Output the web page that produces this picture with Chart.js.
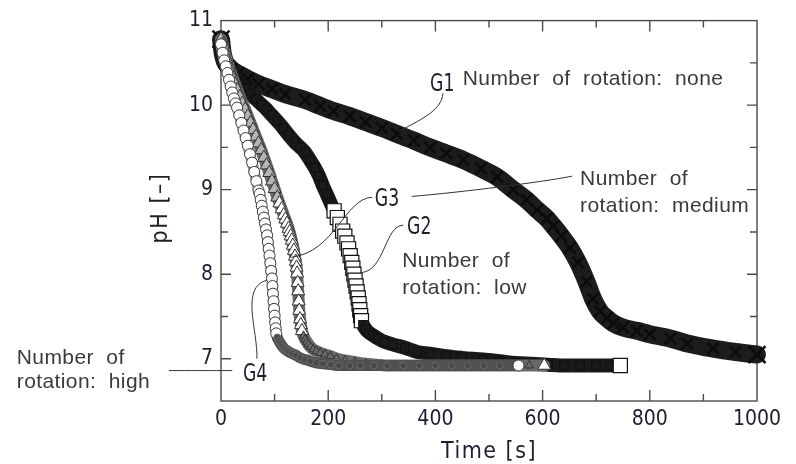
<!DOCTYPE html>
<html>
<head>
<meta charset="utf-8">
<script src="https://cdn.jsdelivr.net/npm/chart.js@4.4.1/dist/chart.umd.min.js"></script>
<style>
  html, body { margin: 0; padding: 0; background: #fff; }
  #wrap { width: 796px; height: 464px; position: relative; }
</style>
</head>
<body>
<div id="wrap"><canvas id="myChart"></canvas></div>
<script>
// G1 - number of rotation: none (crosses)
const g1Time = [0, 3, 7, 12, 20, 32, 50, 70, 95, 120, 157, 185, 210, 240, 270, 300, 328, 360, 390, 420,
  452, 485, 515, 545, 570, 590, 608, 620, 635, 651, 666, 682, 694, 707, 720, 732, 750, 776, 800, 838,
  870, 918, 960, 1000];
const g1PH = [10.78, 10.62, 10.52, 10.47, 10.42, 10.37, 10.31, 10.25, 10.19, 10.13, 10.06, 9.99, 9.93, 9.87, 9.80, 9.73, 9.66, 9.58, 9.50, 9.43,
  9.35, 9.25, 9.15, 9.00, 8.88, 8.76, 8.66, 8.57, 8.45, 8.31, 8.14, 7.91, 7.71, 7.56, 7.48, 7.42, 7.37, 7.33, 7.29, 7.24,
  7.18, 7.12, 7.08, 7.05];

// G2 - low (squares)
const g2Time = [0, 4, 8, 14, 20, 28, 36, 45, 55, 65, 75, 85, 95, 105, 116, 127, 138, 148, 157, 166,
  175, 183, 190, 197, 204, 211, 217, 222, 227, 231, 235, 238, 241, 244, 246, 248, 250, 252, 254, 256,
  257.5, 259, 260.5, 262, 265, 270, 276, 283, 293, 305, 320, 343, 366, 390, 420, 450, 489, 520, 550, 580,
  610, 640, 670, 700, 725, 745];
const g2PH = [10.70, 10.58, 10.50, 10.42, 10.36, 10.30, 10.25, 10.20, 10.13, 10.07, 10.01, 9.95, 9.88, 9.81, 9.73, 9.64, 9.56, 9.50, 9.44, 9.35,
  9.26, 9.16, 9.05, 8.95, 8.85, 8.75, 8.67, 8.59, 8.51, 8.45, 8.37, 8.30, 8.22, 8.14, 8.07, 8.00, 7.93, 7.86, 7.79, 7.72,
  7.65, 7.58, 7.51, 7.45, 7.40, 7.35, 7.31, 7.28, 7.24, 7.20, 7.17, 7.13, 7.08, 7.06, 7.03, 7.01, 6.99, 6.97, 6.95, 6.94,
  6.93, 6.92, 6.92, 6.92, 6.92, 6.92];

// G3 - medium (triangles)
const g3Time = [0, 3, 6, 10, 14, 18, 22, 26, 30, 35, 40, 45, 50, 55, 60, 65, 70, 75, 80, 85,
  90, 95, 100, 105, 109, 113, 117, 120, 123, 126, 128, 130, 132, 134, 136, 138, 139.5, 141, 142, 143,
  144, 145, 146, 147.5, 149, 151, 154, 157, 160, 163, 167, 172, 178, 185, 194, 204, 216, 231, 250, 270,
  290, 315, 340, 370, 400, 430, 460, 490, 520, 550, 575, 603];
const g3PH = [10.78, 10.72, 10.64, 10.55, 10.47, 10.39, 10.32, 10.25, 10.18, 10.10, 10.02, 9.95, 9.87, 9.79, 9.71, 9.63, 9.55, 9.47, 9.38, 9.29,
  9.20, 9.10, 9.01, 8.91, 8.84, 8.77, 8.70, 8.65, 8.60, 8.54, 8.50, 8.45, 8.40, 8.34, 8.28, 8.21, 8.15, 8.08, 8.01, 7.90,
  7.80, 7.68, 7.57, 7.47, 7.40, 7.33, 7.27, 7.23, 7.20, 7.17, 7.14, 7.11, 7.09, 7.07, 7.05, 7.03, 7.00, 6.98, 6.96, 6.94,
  6.93, 6.92, 6.92, 6.92, 6.92, 6.92, 6.92, 6.92, 6.92, 6.92, 6.92, 6.92];

// G4 - high (circles)
const g4Time = [0, 3, 6, 9, 12, 15, 18, 21, 24, 27, 30, 34, 38, 42, 46, 50, 54, 58, 62, 66,
  70, 72, 74, 76, 78, 80, 82, 84, 86, 87.5, 89, 90.5, 92, 93.5, 95, 96, 97, 98, 99, 100,
  101, 102, 103, 105, 108, 111, 114, 118, 122, 127, 133, 140, 148, 157, 167, 178, 190, 205, 220, 240,
  260, 285, 310, 340, 370, 400, 430, 460, 490, 520, 555];
const g4PH = [10.72, 10.62, 10.53, 10.46, 10.38, 10.30, 10.22, 10.15, 10.08, 10.02, 9.97, 9.88, 9.79, 9.70, 9.61, 9.52, 9.42, 9.32, 9.21, 9.10,
  8.99, 8.95, 8.88, 8.81, 8.74, 8.67, 8.60, 8.53, 8.46, 8.38, 8.30, 8.22, 8.13, 8.04, 7.95, 7.86, 7.77, 7.68, 7.59, 7.51,
  7.43, 7.36, 7.30, 7.25, 7.21, 7.18, 7.15, 7.12, 7.10, 7.08, 7.06, 7.04, 7.01, 6.99, 6.97, 6.95, 6.94, 6.93, 6.92, 6.92,
  6.92, 6.92, 6.92, 6.92, 6.92, 6.92, 6.92, 6.92, 6.92, 6.92, 6.92];

// tick labels shown on the axes
const xTickLabels = [0, 200, 400, 600, 800, 1000];
const yTickLabels = [7, 8, 9, 10, 11];

const narrow = '"Liberation Sans Narrow", "DejaVu Sans Condensed", "Liberation Sans", sans-serif';
const plain = '"Liberation Sans", Arial, sans-serif';

const pts = (ts, vs) => ts.map((t, i) => ({ x: t, y: vs[i] }));
const isLast = c => c.dataIndex === c.dataset.data.length - 1;

// annotation texts, anchored in data units (time, pH)
const notes = [
  { text: 'Number  of  rotation:  none', t: 451, v: 10.24 },
  { text: 'Number  of', t: 670, v: 9.05 },
  { text: 'rotation:  medium', t: 670, v: 8.74 },
  { text: 'Number  of', t: 338, v: 8.08 },
  { text: 'rotation:  low', t: 338, v: 7.76 },
  { text: 'Number  of', t: -381, v: 6.94 },
  { text: 'rotation:  high', t: -381, v: 6.65 }
];
const tags = [
  { text: 'G1', t: 390, v: 10.17 },
  { text: 'G3', t: 287, v: 8.81 },
  { text: 'G2', t: 347, v: 8.47 },
  { text: 'G4', t: 41, v: 6.74 }
];
// leader lines: start, two control points, end (bezier) in data units
const leaders = [
  [[414, 10.14], [412, 9.95], [380, 9.85], [332, 9.69]],
  [[655, 9.16], [600, 9.09], [450, 8.97], [356, 8.92]],
  [[282, 8.91], [231, 8.90], [213, 8.26], [131, 8.20]],
  [[340, 8.58], [306, 8.58], [306, 8.05], [263, 8.02]],
  [[67, 7.0], [69, 7.33], [35, 7.85], [86, 7.93]],
  [[-97, 6.86], [-60, 6.86], [0, 6.86], [21, 6.86]]
];

const frame = {
  id: 'frame',
  beforeDatasetsDraw(chart) {
    const { ctx, chartArea: a, scales: { x, y } } = chart;
    ctx.save();
    ctx.strokeStyle = '#4a4a4a';
    ctx.lineWidth = 1.4;
    ctx.strokeRect(a.left, a.top, a.right - a.left, a.bottom - a.top);
    ctx.beginPath();
    x.ticks.forEach(tk => {
      if (tk.value <= x.min || tk.value >= x.max) return;
      const px = x.getPixelForValue(tk.value);
      const len = tk.value % 200 === 0 ? 11 : 7;
      ctx.moveTo(px, a.bottom); ctx.lineTo(px, a.bottom - len);
      ctx.moveTo(px, a.top); ctx.lineTo(px, a.top + len);
    });
    y.ticks.forEach(tk => {
      if (tk.value <= y.min || tk.value >= y.max) return;
      const py = y.getPixelForValue(tk.value);
      const len = Number.isInteger(tk.value) ? 10 : 7;
      ctx.moveTo(a.left, py); ctx.lineTo(a.left + len, py);
      ctx.moveTo(a.right, py); ctx.lineTo(a.right - len, py);
    });
    ctx.stroke();
    ctx.restore();
  }
};

const notesPlugin = {
  id: 'notes',
  afterDatasetsDraw(chart) {
    const { ctx, chartArea: a, scales: { x, y } } = chart;
    const P = (p) => [x.getPixelForValue(p[0]), y.getPixelForValue(p[1])];
    ctx.save();
    ctx.strokeStyle = '#333';
    ctx.lineWidth = 1;
    leaders.forEach(l => {
      const [s, c1, c2, e] = l.map(P);
      ctx.beginPath();
      ctx.moveTo(s[0], s[1]);
      ctx.bezierCurveTo(c1[0], c1[1], c2[0], c2[1], e[0], e[1]);
      ctx.stroke();
    });
    ctx.fillStyle = '#3a3a3a';
    ctx.font = '21px ' + plain;
    ctx.textBaseline = 'alphabetic';
    ctx.letterSpacing = '0.4px';
    notes.forEach(n => {
      const [px, py] = P([n.t, n.v]);
      ctx.fillText(n.text, px, py);
    });
    ctx.letterSpacing = '0px';
    ctx.fillStyle = '#1e1e30';
    ctx.font = '24px ' + narrow;
    tags.forEach(g => {
      const [px, py] = P([g.t, g.v]);
      ctx.save();
      ctx.translate(px, py);
      ctx.scale(0.8, 1);
      ctx.fillText(g.text, 0, 0);
      ctx.restore();
    });
    // axis titles
    ctx.font = '23px ' + narrow;
    ctx.textAlign = 'center';
    ctx.letterSpacing = '1.5px';
    ctx.fillText('Time [s]', (a.left + a.right) / 2, 458);
    ctx.save();
    ctx.translate(167, 208);
    ctx.rotate(-Math.PI / 2);
    ctx.fillText('pH [\u2013]', 0, 0);
    ctx.restore();
    ctx.restore();
  }
};

const common = {
  showLine: true,
  clip: false,
  cubicInterpolationMode: 'monotone',
  borderCapStyle: 'round',
  borderJoinStyle: 'round'
};

// open markers only where the curve drops steeply, as in the figure
const g2Open = v => v > 7.44 && v < 8.78;
const g3Open = v => v > 7.3 && v < 8.9;

const datasets = [
  {
    ...common, label: 'G4', data: pts(g4Time, g4PH),
    borderWidth: 11,
    segment: { borderColor: c => (c.p0.parsed.y > 7.28 ? '#9a9a9a' : '#505050') },
    borderColor: '#9a9a9a',
    pointStyle: 'circle', pointBorderWidth: 1,
    pointRadius: c => (isLast(c) || c.raw.y > 7.28 ? 5.5 : 3.5),
    pointBorderColor: c => (isLast(c) || c.raw.y > 7.28 ? '#3a3a3a' : '#6a6a6a'),
    pointBackgroundColor: c => (isLast(c) || c.raw.y > 7.28 ? '#fff' : '#4a4a4a')
  },
  {
    ...common, label: 'G3', data: pts(g3Time, g3PH),
    borderWidth: 12,
    borderColor: '#6a6a6a',
    pointStyle: 'triangle', pointBorderWidth: 1,
    pointRadius: c => (isLast(c) || c.raw.y > 7.3 ? 7.5 : 5),
    pointBorderColor: '#333',
    pointBackgroundColor: c => (isLast(c) || g3Open(c.raw.y) ? '#fff' : (c.raw.y >= 8.9 ? '#b5b5b5' : '#6a6a6a'))
  },
  {
    ...common, label: 'G2', data: pts(g2Time, g2PH),
    borderWidth: 14,
    borderColor: '#1a1a1a',
    pointStyle: 'rect', pointBorderWidth: 1.2,
    pointRadius: c => (isLast(c) || g2Open(c.raw.y) ? 10 : 6),
    pointBorderColor: '#111',
    pointBackgroundColor: c => (isLast(c) || g2Open(c.raw.y) ? '#fff' : '#1a1a1a')
  },
  {
    ...common, label: 'G1', data: pts(g1Time, g1PH),
    borderWidth: 18,
    borderColor: '#1c1c1c',
    pointStyle: 'crossRot', pointBorderWidth: 2.5,
    pointRadius: c => (c.dataIndex === 0 || isLast(c) ? 12 : 8),
    pointBorderColor: '#0c0c0c',
    pointBackgroundColor: '#111'
  }
];

const ctx = document.getElementById('myChart').getContext('2d');
new Chart(ctx, {
  type: 'line',
  data: { datasets },
  options: {
    responsive: true,
    maintainAspectRatio: false,
    animation: false,
    events: [],
    layout: { padding: { top: 14, right: 39, left: 0, bottom: 0 } },
    plugins: { legend: { display: false }, tooltip: { enabled: false } },
    scales: {
      x: {
        type: 'linear', min: 0, max: 1000,
        grid: { display: false, drawTicks: false },
        border: { display: false },
        ticks: {
          stepSize: 100, padding: 6, maxRotation: 0, autoSkip: false,
          color: '#1e1e30', font: { family: narrow, size: 21 },
          callback: v => (xTickLabels.includes(v) ? String(v) : '')
        },
        afterFit: s => { s.height = 63; }
      },
      y: {
        type: 'linear', min: 6.5, max: 11,
        grid: { display: false, drawTicks: false },
        border: { display: false },
        ticks: {
          stepSize: 0.5, padding: 8, autoSkip: false,
          color: '#1e1e30', font: { family: narrow, size: 21 },
          callback: v => (yTickLabels.includes(v) ? String(v) : '')
        },
        afterFit: s => { s.width = 221; }
      }
    }
  },
  plugins: [frame, notesPlugin]
});
</script>
</body>
</html>
